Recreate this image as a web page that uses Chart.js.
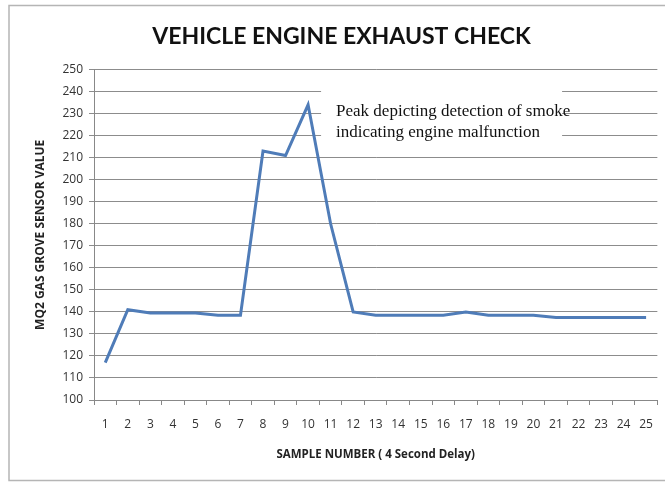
<!DOCTYPE html>
<html lang="en">
<head>
    <meta charset="UTF-8">
    <title>Vehicle Engine Exhaust Check</title>
    <style>
        body { margin: 0; background: #fff; }
        #wrap { position: relative; width: 665px; height: 483px; }
    </style>
    <script src="https://cdn.jsdelivr.net/npm/chart.js"></script>
</head>
<body>
    <div id="wrap">
        <canvas id="exhaustChart" width="665" height="483"></canvas>
    </div>

    <script>
        // sample numbers 1..25 (4 second delay)
        const sampleLabels = ['1', '2', '3', '4', '5', '6', '7', '8', '9', '10', '11', '12', '13',
            '14', '15', '16', '17', '18', '19', '20', '21', '22', '23', '24', '25'];

        // MQ2 gas grove sensor readings
        const sensorValues = [117, 141, 139.5, 139.5, 139.5, 138.5, 138.5, 213, 211, 234, 180, 140, 138.5,
            138.5, 138.5, 138.5, 140, 138.5, 138.5, 138.5, 137.5, 137.5, 137.5, 137.5, 137.5];

        const noteLines = ['Peak depicting detection of smoke', 'indicating engine malfunction'];

        // frame around the whole picture + the note beside the peak
        const extras = {
            id: 'extras',
            beforeDraw(chart) {
                const ctx = chart.ctx;
                ctx.save();
                ctx.fillStyle = '#fff';
                ctx.fillRect(0, 0, chart.width, chart.height);
                ctx.strokeStyle = '#b5b5b5';
                ctx.lineWidth = 1.5;
                ctx.strokeRect(9, 5.5, chart.width + 10, chart.height - 8);
                ctx.restore();
            },
            afterDatasetsDraw(chart) {
                const ctx = chart.ctx;
                const x = chart.scales.x;
                const y = chart.scales.y;
                const left = x.getPixelForValue(9) + 13;
                ctx.save();
                ctx.fillStyle = '#fff';
                ctx.fillRect(left, y.getPixelForValue(243), 241, y.getPixelForValue(216.5) - y.getPixelForValue(243));
                ctx.fillStyle = '#111';
                ctx.font = '17px "Liberation Serif", serif';
                ctx.textBaseline = 'middle';
                ctx.fillText(noteLines[0], left + 15, y.getPixelForValue(231.1));
                ctx.fillText(noteLines[1], left + 15, y.getPixelForValue(221.6));
                ctx.restore();
            }
        };

        const ctx = document.getElementById('exhaustChart').getContext('2d');
        new Chart(ctx, {
            type: 'line',
            data: {
                labels: sampleLabels,
                datasets: [{
                    label: 'MQ2 sensor',
                    data: sensorValues,
                    borderColor: '#4f7cb8',
                    borderWidth: 3,
                    pointRadius: 0,
                    tension: 0,
                    fill: false
                }]
            },
            options: {
                responsive: false,
                animation: false,
                layout: { padding: { left: 20, right: 2, top: 0, bottom: 0 } },
                plugins: {
                    legend: { display: false },
                    tooltip: { enabled: false },
                    title: {
                        display: true,
                        text: 'VEHICLE ENGINE EXHAUST CHECK',
                        color: '#111',
                        font: { family: 'Lato', size: 23, weight: 'bold' },
                        padding: { top: 23, bottom: 19 }
                    }
                },
                scales: {
                    x: {
                        offset: true,
                        grid: {
                            offset: true,
                            drawOnChartArea: false,
                            tickLength: 5,
                            color: '#888'
                        },
                        border: { color: '#888', width: 1 },
                        ticks: {
                            color: '#333',
                            font: { family: 'Open Sans', size: 12 },
                            padding: 12,
                            maxRotation: 0,
                            autoSkip: false
                        },
                        title: {
                            display: true,
                            text: 'SAMPLE NUMBER ( 4 Second Delay)',
                            color: '#222',
                            font: { family: 'Open Sans', size: 11.5, weight: 'bold' },
                            padding: { top: 0, bottom: 21 }
                        },
                        afterFit(scale) { scale.height = 83; }
                    },
                    y: {
                        min: 100,
                        max: 250,
                        grid: { color: '#8c8c8c', tickLength: 5 },
                        border: { color: '#888', width: 1 },
                        ticks: {
                            stepSize: 10,
                            color: '#333',
                            font: { family: 'Open Sans', size: 12 },
                            padding: 6
                        },
                        title: {
                            display: true,
                            text: 'MQ2 GAS GROVE SENSOR VALUE',
                            color: '#222',
                            font: { family: 'Open Sans', size: 12, weight: 'bold' },
                            padding: { top: 13, bottom: 0 }
                        },
                        afterFit(scale) { scale.width = 74; }
                    }
                }
            },
            plugins: [extras]
        });
    </script>
</body>
</html>
